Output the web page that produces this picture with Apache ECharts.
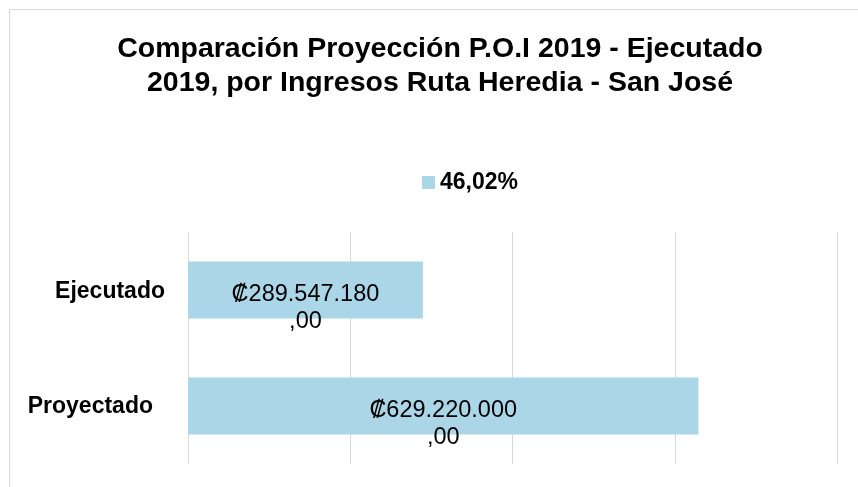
<!DOCTYPE html>
<html>
<head>
<meta charset="utf-8">
<style>
  html, body { margin: 0; padding: 0; background: #ffffff; }
  #chart { width: 858px; height: 487px; }
</style>
<script src="https://cdn.jsdelivr.net/npm/echarts@6/dist/echarts.min.js"></script>
</head>
<body>
<div id="chart"></div>
<script>
const categories = ['Proyectado', 'Ejecutado'];
const values = [629220000, 289547180];
const seriesName = '46,02%';
const titleText = 'Comparación Proyección P.O.I 2019 - Ejecutado\n2019, por Ingresos Ruta Heredia - San José';

const FONT = '"Liberation Sans", Arial, sans-serif';

function fmtColon(v) {
  const s = Math.round(v).toString().replace(/\B(?=(\d{3})+(?!\d))/g, '.');
  return '₡' + s + '\n,00';
}

const chart = echarts.init(document.getElementById('chart'), null, { renderer: 'canvas' });
chart.setOption({
  backgroundColor: '#ffffff',
  animation: false,
  textStyle: { fontFamily: FONT },
  graphic: [{
    type: 'rect',
    silent: true,
    shape: { x: 9.5, y: 9.5, width: 1000, height: 1000 },
    style: { fill: 'none', stroke: '#d9d9d9', lineWidth: 1 }
  }],
  title: {
    text: titleText,
    left: 440,
    top: 32,
    padding: 0,
    textAlign: 'center',
    textStyle: {
      fontFamily: FONT,
      fontSize: 28.5,
      fontWeight: 'bold',
      color: '#000000',
      lineHeight: 34
    }
  },
  legend: {
    data: [seriesName],
    left: 422,
    top: 171,
    padding: 0,
    itemWidth: 13,
    itemHeight: 13,
    icon: 'rect',
    textStyle: {
      fontFamily: FONT,
      fontSize: 23,
      fontWeight: 'bold',
      color: '#000000',
      lineHeight: 23
    }
  },
  grid: {
    left: 188,
    right: 21,
    top: 232,
    bottom: 23,
    containLabel: false
  },
  xAxis: {
    type: 'value',
    min: 0,
    max: 800000000,
    interval: 200000000,
    axisLabel: { show: false },
    axisLine: { show: false },
    axisTick: { show: false },
    splitLine: {
      show: true,
      showMinLine: true,
      showMaxLine: true,
      lineStyle: { color: '#d9d9e0', width: 1 }
    }
  },
  yAxis: {
    type: 'category',
    data: categories,
    axisLine: { show: false },
    axisTick: { show: false },
    axisLabel: {
      margin: 23,
      formatter: function (v) { return v === 'Proyectado' ? '{p|' + v + '}' : '{e|' + v + '}'; },
      rich: {
        e: { fontFamily: FONT, fontSize: 23, fontWeight: 'bold', color: '#000000', padding: [4, 0, 0, 0] },
        p: { fontFamily: FONT, fontSize: 23, fontWeight: 'bold', color: '#000000', padding: [2, 12, 0, 0] }
      }
    }
  },
  series: [{
    name: seriesName,
    type: 'bar',
    data: values,
    barCategoryGap: '51%',
    itemStyle: { color: '#abd6e8' },
    label: {
      show: true,
      position: 'inside',
      offset: [0, 18],
      formatter: function (p) { return fmtColon(p.value); },
      fontFamily: FONT,
      fontSize: 23.5,
      color: '#000000',
      lineHeight: 27,
      align: 'center'
    }
  }]
});
</script>
</body>
</html>
